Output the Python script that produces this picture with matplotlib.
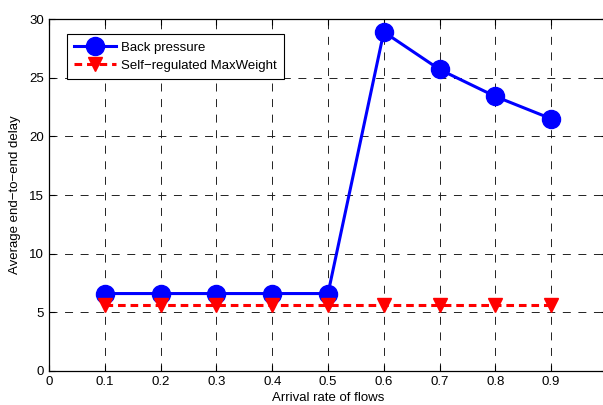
import matplotlib
matplotlib.use("Agg")
import matplotlib.pyplot as plt

plt.rcParams['font.family'] = ['Liberation Sans', 'DejaVu Sans']

arrival_rate = [0.1, 0.2, 0.3, 0.4, 0.5, 0.6, 0.7, 0.8, 0.9]
back_pressure = [6.6, 6.6, 6.6, 6.6, 6.6, 28.9, 25.7, 23.4, 21.5]
self_regulated = [5.6, 5.6, 5.6, 5.6, 5.6, 5.6, 5.6, 5.6, 5.6]
x_ticks = [0, 0.1, 0.2, 0.3, 0.4, 0.5, 0.6, 0.7, 0.8, 0.9, 1.0]
x_labels = ['0', '0.1', '0.2', '0.3', '0.4', '0.5', '0.6', '0.7', '0.8', '0.9', '']
y_ticks = [0, 5, 10, 15, 20, 25, 30]

fig = plt.figure(figsize=(6.03, 4.05), dpi=100)
ax = fig.add_axes([0.0813, 0.084, 0.9253, 0.869])

ax.plot(arrival_rate, back_pressure, color='blue', lw=2.2, marker='o',
        markersize=13, label='Back pressure', zorder=3)
ax.plot(arrival_rate, self_regulated, color='red', lw=2.2, linestyle='--',
        dashes=(2.5, 1.6), marker='v', markersize=10,
        label='Self\u2212regulated MaxWeight', zorder=3)

ax.set_xlim(0, 1.0)
ax.set_ylim(0, 30)
ax.set_xticks(x_ticks)
ax.set_xticklabels(x_labels)
ax.set_yticks(y_ticks)
# matlab style dashed grid
ax.grid(True, color='#222222', linestyle=(0, (8.2, 7.8)), linewidth=0.7)
ax.tick_params(direction='in', top=True, right=True, labelsize=9.5, length=4, width=0.8)
for s in ax.spines.values():
    s.set_linewidth(0.9)

ax.set_xlabel('Arrival rate of flows', fontsize=9.5, labelpad=3)
ax.set_ylabel('Average end\u2212to\u2212end delay', fontsize=9.5, labelpad=6)

leg = ax.legend(loc='upper left', bbox_to_anchor=(0.032, 0.957), fontsize=9.5,
                handlelength=3.2, fancybox=False, framealpha=1, borderpad=0.55,
                labelspacing=0.45, handletextpad=0.38, borderaxespad=0)
leg.get_frame().set_edgecolor('black')
leg.get_frame().set_linewidth(0.8)

fig.savefig('out.png', dpi=100)
